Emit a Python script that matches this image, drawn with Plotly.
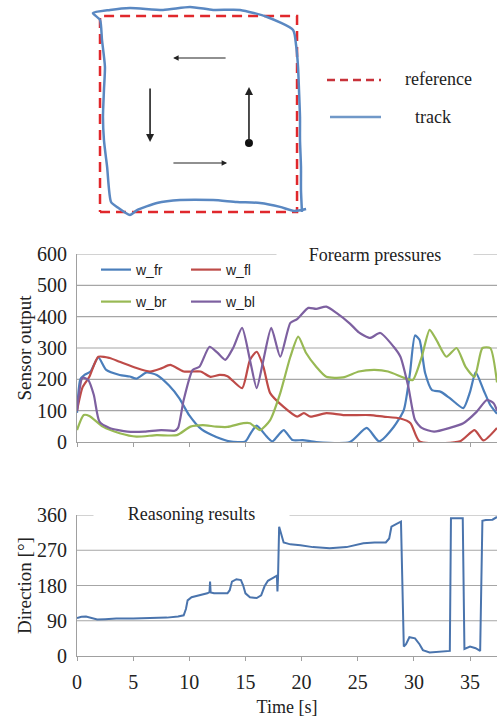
import plotly.graph_objects as go

# ---------------- data ----------------
# Top schematic (units: % of reference square side)
ref_x = [0, 100, 100, 0, 0]
ref_y = [0, 0, 100, 100, 0]
track_x = [104.6, 98.5, 91.4, 81.2, 69.5, 57.4, 40.6, 28.9, 18.8, 15.2, 8.6, 5.6, 3.6, 2.0, 1.5, 2.0, 2.5, 1.0, 0.0, -3.6,
           5.1, 15.2, 32.0, 45.7, 57.4, 71.1, 84.8, 98.0, 99.5, 100.5, 101.0, 101.5, 101.5, 102.0, 102.0, 102.5]
track_y = [1.5, 0.5, 2.6, 4.6, 5.1, 6.1, 6.1, 4.6, 1.0, -1.5, 2.6, 5.1, 23.0, 36.7, 48.5, 62.2, 74.0, 87.8, 98.0, 101.5,
           103.1, 104.1, 103.1, 104.6, 103.1, 103.1, 99.5, 92.9, 85.2, 74.0, 62.2, 48.5, 36.7, 23.0, 11.2, 0.0]
arrow_tail_x = [64.5, 25.4, 75.6, 36.5]
arrow_tail_y = [78.6, 63.8, 35.2, 25.0]
arrow_head_x = [37.1, 25.4, 75.6, 64.5]
arrow_head_y = [78.6, 35.7, 63.8, 25.0]
start_x = [75.6]
start_y = [35.2]

# Forearm pressures
fr_t = [0, 0.3, 0.7, 1.2, 1.9, 2.6, 3.8, 4.7, 5.3, 6.2, 7.1, 8.2, 9.1, 10.0, 11.1, 12.4, 13.6, 15.0, 15.5, 16.0, 16.9,
        17.4, 18.4, 19.2, 20.1, 21.3, 24.3, 25.8, 26.9, 28.2, 29.1, 29.65, 30.1, 30.5, 31.0, 31.6, 32.4, 33.2, 34.4,
        35.0, 35.5, 36.2, 36.8, 37.4]
fr_v = [93, 200, 215, 225, 270, 230, 214, 209, 202, 222, 214, 180, 140, 85, 40, 16, 2, 2, 30, 52, 17,
        2, 38, 6, 6, 0, 0, 45, 2, 48, 102, 220, 340, 326, 220, 166, 160, 140, 108,
        160, 222, 166, 118, 90]
fl_t = [0, 0.5, 1.1, 1.9, 2.9, 3.8, 5.3, 6.5, 7.5, 8.3, 9.5, 11.0, 11.9, 12.7, 13.4, 14.7, 15.4, 16.0, 16.6, 17.2,
        18.4, 19.6, 20.2, 20.8, 22.2, 23.7, 26.1, 27.3, 28.8, 29.7, 30.5, 34.1, 35.4, 36.2, 37.4]
fl_v = [100, 175, 208, 272, 268, 256, 236, 225, 235, 246, 225, 225, 208, 214, 210, 172, 262, 288, 240, 156,
        112, 81, 92, 81, 92, 86, 86, 81, 75, 60, 2, 2, 38, 5, 45]
br_t = [0, 0.6, 1.1, 2.3, 3.8, 5.3, 7.1, 8.9, 10.1, 11.2, 12.4, 13.4, 14.8, 15.4, 16.3, 17.2, 18.1, 19.0, 19.7,
        20.4, 21.3, 22.2, 23.7, 25.1, 26.5, 27.7, 29.2, 29.9, 30.7, 31.4, 32.0, 32.9, 33.8, 34.6, 35.4, 36.1, 36.8, 37.4]
br_v = [38, 86, 83, 49, 28, 17, 22, 22, 49, 54, 49, 48, 60, 60, 38, 70, 156, 272, 336,
        284, 240, 208, 206, 225, 230, 225, 204, 198, 272, 358, 326, 272, 300, 240, 208, 300, 300, 190]
bl_t = [0, 0.5, 1.0, 1.5, 2.0, 2.9, 4.5, 6.0, 7.5, 8.7, 9.0, 9.5, 10.3, 10.9, 11.8, 12.5, 13.2, 13.9, 14.7, 15.4,
        16.0, 16.6, 17.3, 18.1, 19.0, 19.6, 20.6, 21.3, 22.2, 23.1, 24.3, 25.1, 26.1, 27.0, 28.2, 28.8, 29.5, 30.1,
        30.7, 31.8, 33.2, 34.4, 35.6, 36.5, 37.1, 37.4]
bl_v = [100, 205, 198, 150, 65, 45, 33, 33, 38, 36, 45, 134, 230, 240, 304, 285, 262, 300, 364, 262,
        172, 262, 364, 272, 380, 392, 428, 425, 432, 412, 378, 350, 332, 348, 304, 272, 177, 70,
        45, 33, 45, 60, 97, 134, 124, 100]

# Reasoning results
dir_t = [0, 0.4, 0.8, 1.3, 1.8, 2.5, 3.5, 5, 6.5, 8, 9.0, 9.5, 9.7, 9.85, 10.2, 11.0, 11.6, 11.8, 11.85, 11.9,
         12.2, 13.4, 13.6, 13.8, 14.2, 14.6, 14.8, 15.0, 15.4, 16.0, 16.4, 16.7, 17.0, 17.5, 17.8, 17.85, 17.9,
         18.0, 18.2, 18.4, 19.0, 19.9, 21, 22.5, 24, 25.5, 26.5, 27.5, 27.8, 28.0, 28.5, 28.85, 29.1, 29.3,
         29.6, 30.1, 30.5, 30.8, 31.4, 32.5, 33.2, 33.3, 34.35, 34.5, 35.0, 35.5, 35.9, 36.1, 36.4, 37.0, 37.4]
dir_v = [97, 100, 101, 96, 93, 94, 96, 96, 97, 98, 101, 104, 120, 142, 150, 155, 160, 163, 190, 162,
         160, 160, 168, 190, 196, 194, 180, 160, 150, 148, 155, 178, 192, 200, 205, 165, 200,
         330, 310, 290, 285, 283, 278, 275, 278, 288, 290, 290, 300, 330, 338, 343, 24, 30,
         48, 45, 30, 15, 9, 11, 13, 352, 352, 18, 24, 20, 13, 345, 347, 348, 355]

sensor_ticks = [0, 100, 200, 300, 400, 500, 600]
dir_ticks = [0, 90, 180, 270, 360]
time_ticks = [0, 5, 10, 15, 20, 25, 30, 35]
time_range = [0, 37.4]

# ---------------- figure ----------------
W, H = 499, 717
SERIF = "Liberation Serif"
SANS = "Liberation Sans"

def px_x(p):
    return p / W

def px_y(p):
    return 1 - p / H

fig = go.Figure()

grid = "#a6a6a6"
axline = "#a0a0a0"

# horizontal gridlines at the tick values (drawn first, beneath the data)
for v in sensor_ticks[1:]:
    fig.add_trace(go.Scatter(x=time_range, y=[v, v], mode="lines", xaxis="x", yaxis="y", showlegend=False,
                             hoverinfo="skip", cliponaxis=False, line=dict(color=grid, width=1.2)))
for v in dir_ticks[1:]:
    fig.add_trace(go.Scatter(x=time_range, y=[v, v], mode="lines", xaxis="x2", yaxis="y2", showlegend=False,
                             hoverinfo="skip", cliponaxis=False, line=dict(color=grid, width=1.2)))

# top schematic
fig.add_trace(go.Scatter(x=ref_x, y=ref_y, mode="lines", xaxis="x3", yaxis="y3", showlegend=False,
                         line=dict(color="#e0282c", width=2.5, dash="10px,6px")))
fig.add_trace(go.Scatter(x=track_x, y=track_y, mode="lines", xaxis="x3", yaxis="y3", showlegend=False,
                         line=dict(color="#5a88c2", width=2.5, shape="spline", smoothing=0.6)))
fig.add_trace(go.Scatter(x=start_x, y=start_y, mode="markers", xaxis="x3", yaxis="y3", showlegend=False,
                         marker=dict(color="#111", size=8)))
for hx, hy, tx, ty in zip(arrow_head_x, arrow_head_y, arrow_tail_x, arrow_tail_y):
    vertical = abs(hx - tx) < 1e-6
    fig.add_annotation(x=hx, y=hy, ax=tx, ay=ty, xref="x3", yref="y3", axref="x3", ayref="y3",
                       showarrow=True, arrowhead=2, arrowsize=1, arrowwidth=1.6 if vertical else 1.1,
                       arrowcolor="#222", text="")

# sensor lines
series = [("w_fr", fr_t, fr_v, "#4a7ebb", "legend"),
          ("w_fl", fl_t, fl_v, "#be4b48", "legend"),
          ("w_br", br_t, br_v, "#98b954", "legend2"),
          ("w_bl", bl_t, bl_v, "#7d60a0", "legend2")]
for name, t, v, c, lg in series:
    fig.add_trace(go.Scatter(x=t, y=v, mode="lines", name=name, legend=lg,
                             line=dict(color=c, width=2.2, shape="spline", smoothing=0.6),
                             xaxis="x", yaxis="y"))

fig.add_trace(go.Scatter(x=dir_t, y=dir_v, mode="lines", showlegend=False, xaxis="x2", yaxis="y2",
                         line=dict(color="#4a74ad", width=2)))

xdom = [px_x(77), px_x(497)]
tickfont = dict(family=SERIF, size=20, color="#222")

common_x = dict(domain=xdom, range=time_range, showgrid=False, zeroline=False, showline=True,
                linecolor=axline, linewidth=1, ticks="outside", ticklen=4, tickcolor=axline,
                tickvals=time_ticks, fixedrange=True)

fig.update_layout(
    width=W, height=H, autosize=False,
    margin=dict(l=0, r=0, t=0, b=0),
    paper_bgcolor="white", plot_bgcolor="rgba(0,0,0,0)",
    xaxis=dict(**common_x, anchor="y", showticklabels=False),
    yaxis=dict(domain=[px_y(442), px_y(254)], range=[0, 600], tickmode="array", tickvals=sensor_ticks,
               showgrid=False, zeroline=False, showline=True,
               linecolor=axline, ticks="", tickfont=tickfont, ticklabelstandoff=5,
               title=dict(text="Sensor output", font=dict(family=SERIF, size=19, color="#222"), standoff=0),
               anchor="x", automargin=False, fixedrange=True),
    xaxis2=dict(**common_x, anchor="y2", tickfont=tickfont, ticklabelstandoff=4,
                title=dict(text="Time [s]", font=dict(family=SERIF, size=18, color="#222"), standoff=8),
                automargin=False),
    yaxis2=dict(domain=[px_y(656), px_y(515)], range=[0, 360], tickmode="array", tickvals=dir_ticks,
                showgrid=False, zeroline=False, showline=True,
                linecolor=axline, ticks="", tickfont=tickfont, ticklabelstandoff=5,
                title=dict(text="Direction [°]", font=dict(family=SERIF, size=19, color="#222"), standoff=0),
                anchor="x2", automargin=False, fixedrange=True),
    xaxis3=dict(domain=[0, 1], range=[-50.76, 202.5], visible=False, fixedrange=True),
    yaxis3=dict(domain=[px_y(225), 1], range=[-6.63, 108.16], visible=False, fixedrange=True, anchor="x3"),
    legend=dict(orientation="h", x=px_x(96), y=px_y(270), xanchor="left", yanchor="middle",
                bgcolor="rgba(0,0,0,0)", font=dict(family=SANS, size=14, color="#222"),
                entrywidth=45, entrywidthmode="pixels", itemclick=False, itemdoubleclick=False),
    legend2=dict(orientation="h", x=px_x(96), y=px_y(302), xanchor="left", yanchor="middle",
                 bgcolor="rgba(0,0,0,0)", font=dict(family=SANS, size=14, color="#222"),
                 entrywidth=45, entrywidthmode="pixels", itemclick=False, itemdoubleclick=False),
)

# chart titles breaking the top gridline
fig.add_annotation(text="Forearm pressures", x=px_x(375), y=px_y(255), xref="paper", yref="paper",
                   showarrow=False, bgcolor="white", width=196, borderpad=0, xanchor="center", yanchor="middle",
                   font=dict(family=SERIF, size=18, color="#222"))
fig.add_annotation(text="Reasoning results", x=px_x(191), y=px_y(514), xref="paper", yref="paper",
                   showarrow=False, bgcolor="white", width=195, borderpad=0, xanchor="center", yanchor="middle",
                   font=dict(family=SERIF, size=18, color="#222"))

# top legend
fig.add_shape(type="line", xref="paper", yref="paper", x0=px_x(327), x1=px_x(381), y0=px_y(80), y1=px_y(80),
              line=dict(color="#c8323a", width=2.5, dash="8px,5px"))
fig.add_shape(type="line", xref="paper", yref="paper", x0=px_x(330), x1=px_x(381), y0=px_y(117), y1=px_y(117),
              line=dict(color="#7098c8", width=2.5))
fig.add_annotation(text="reference", x=px_x(403), y=px_y(79), xref="paper", yref="paper", showarrow=False,
                   xanchor="left", yanchor="middle", font=dict(family=SERIF, size=18, color="#222"))
fig.add_annotation(text="track", x=px_x(413), y=px_y(117), xref="paper", yref="paper", showarrow=False,
                   xanchor="left", yanchor="middle", font=dict(family=SERIF, size=18, color="#222"))

fig.write_html("out.html", config={"displayModeBar": False},
               post_script="document.body.style.margin='0px';document.body.style.padding='0px';")
